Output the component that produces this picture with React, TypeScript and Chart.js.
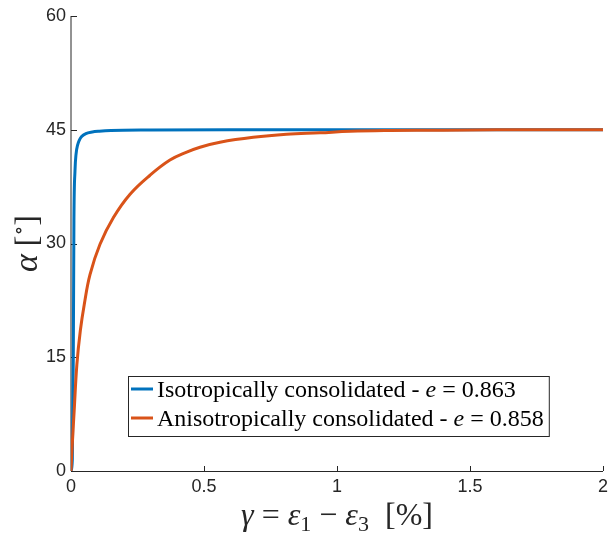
import { useEffect, useRef } from "react";
import { Chart, registerables } from "chart.js";

Chart.register(...registerables);

// Shear strain gamma [%] and mobilised angle alpha [deg] for the two specimens
const ISO_STRAIN = [0, 0.005, 0.0087, 0.011, 0.015, 0.019, 0.025, 0.031, 0.04, 0.056, 0.08, 0.106, 0.15, 0.3, 0.6, 1, 1.5, 2];
const ISO_ANGLE = [0, 1.5, 15.4, 33, 39.6, 41.8, 43, 43.6, 44.1, 44.5, 44.7, 44.8, 44.9, 44.97, 45, 45, 45, 45];

const ANISO_STRAIN = [0, 0.004, 0.012, 0.022, 0.035, 0.05, 0.0714, 0.109, 0.159, 0.222, 0.297, 0.372, 0.435, 0.485, 0.56, 0.685, 0.81, 0.936, 1.05, 1.2, 1.4, 1.6, 2];
const ANISO_ANGLE = [0, 3, 8, 14, 18.5, 22, 25.9, 29.9, 33.4, 36.5, 39.0, 41.0, 42.05, 42.7, 43.35, 44.0, 44.4, 44.6, 44.8, 44.9, 44.95, 45, 45];

const X_TICKS = [0, 0.5, 1, 1.5, 2];
const Y_TICKS = [0, 15, 30, 45, 60];

const ISO_LABEL = "Isotropically consolidated - ";
const ISO_VOID = "0.863";
const ANISO_LABEL = "Anisotropically consolidated - ";
const ANISO_VOID = "0.858";

const BLUE = "#0072BD";
const ORANGE = "#D95319";
const AXIS = "#262626";
const SERIF = "'Liberation Serif', 'DejaVu Serif', serif";
const SANS = "'Liberation Sans', Arial, sans-serif";

type Run = { text: string; size: number; italic?: boolean; dy?: number };

function setFont(ctx: CanvasRenderingContext2D, r: Run) {
  ctx.font = `${r.italic ? "italic " : ""}${r.size}px ${SERIF}`;
}

function runsWidth(ctx: CanvasRenderingContext2D, runs: Run[]) {
  let w = 0;
  for (const r of runs) {
    setFont(ctx, r);
    w += ctx.measureText(r.text).width;
  }
  return w;
}

function drawRuns(ctx: CanvasRenderingContext2D, runs: Run[], x: number, y: number) {
  let cx = x;
  ctx.textAlign = "left";
  ctx.textBaseline = "alphabetic";
  for (const r of runs) {
    setFont(ctx, r);
    ctx.fillText(r.text, cx, y + (r.dy || 0));
    cx += ctx.measureText(r.text).width;
  }
  return cx;
}

const xTitle: Run[] = [
  { text: "γ", size: 32, italic: true },
  { text: " = ", size: 32 },
  { text: "ε", size: 32, italic: true },
  { text: "1", size: 22, dy: 6 },
  { text: " − ", size: 32 },
  { text: "ε", size: 32, italic: true },
  { text: "3", size: 22, dy: 6 },
  { text: "  [%]", size: 32 },
];

const yTitle: Run[] = [
  { text: "α", size: 34, italic: true },
  { text: " [", size: 32 },
  { text: "∘", size: 20, dy: -12 },
  { text: "]", size: 32 },
];

const axesPlugin = {
  id: "matlabAxes",
  beforeDatasetsDraw(chart: any) {
    const { ctx, chartArea } = chart;
    const xs = chart.scales.x;
    const ys = chart.scales.y;
    ctx.save();
    ctx.strokeStyle = AXIS;
    ctx.lineWidth = 1;
    // left axis
    ctx.beginPath();
    ctx.moveTo(chartArea.left, chartArea.top);
    ctx.lineTo(chartArea.left, chartArea.bottom);
    ctx.stroke();
    // bottom axis
    ctx.beginPath();
    ctx.moveTo(chartArea.left, chartArea.bottom + 0.5);
    ctx.lineTo(chartArea.right, chartArea.bottom + 0.5);
    ctx.stroke();
    // inward ticks
    ctx.beginPath();
    for (const v of X_TICKS) {
      const px = Math.round(xs.getPixelForValue(v)) + 0.5;
      ctx.moveTo(px, chartArea.bottom);
      ctx.lineTo(px, chartArea.bottom - 5);
    }
    for (const v of Y_TICKS) {
      const py = Math.round(ys.getPixelForValue(v)) + 0.5;
      ctx.moveTo(chartArea.left, py);
      ctx.lineTo(chartArea.left + 6, py);
    }
    ctx.stroke();
    ctx.restore();
  },
  afterDraw(chart: any) {
    const { ctx, chartArea } = chart;
    ctx.save();
    ctx.fillStyle = AXIS;
    // x axis title
    const wx = runsWidth(ctx, xTitle);
    drawRuns(ctx, xTitle, (chartArea.left + chartArea.right) / 2 - wx / 2, 525);
    // y axis title
    const wy = runsWidth(ctx, yTitle);
    ctx.translate(37, (chartArea.top + chartArea.bottom) / 2);
    ctx.rotate(-Math.PI / 2);
    drawRuns(ctx, yTitle, -wy / 2, 0);
    ctx.restore();

    // legend box
    const rows = chart.data.datasets.map((ds: any) => ({
      color: ds.borderColor as string,
      runs: [
        { text: ds.label as string, size: 24 },
        { text: "e", size: 24, italic: true },
        { text: " = " + ds.voidRatio, size: 24 },
      ] as Run[],
    }));
    ctx.save();
    const left = 128;
    const top = 376;
    const bottom = 436;
    const textX = 157;
    let maxW = 0;
    for (const r of rows) maxW = Math.max(maxW, runsWidth(ctx, r.runs));
    const right = textX + maxW + 5;
    ctx.fillStyle = "#ffffff";
    ctx.fillRect(left, top, right - left, bottom - top);
    ctx.strokeStyle = AXIS;
    ctx.lineWidth = 1;
    ctx.strokeRect(left + 0.5, top + 0.5, right - left, bottom - top);
    rows.forEach((r: any, i: number) => {
      const cy = 389 + i * 29;
      ctx.strokeStyle = r.color;
      ctx.lineWidth = 3;
      ctx.beginPath();
      ctx.moveTo(131, cy);
      ctx.lineTo(153, cy);
      ctx.stroke();
      ctx.fillStyle = "#000000";
      drawRuns(ctx, r.runs, textX, cy + 8);
    });
    ctx.restore();
  },
};

function toPoints(xs: number[], ys: number[]) {
  return xs.map((x, i) => ({ x, y: ys[i] }));
}

export default function App() {
  const ref = useRef<HTMLCanvasElement>(null);

  useEffect(() => {
    document.body.style.margin = "0";
    const chart = new Chart(ref.current!, {
      type: "line",
      data: {
        datasets: [
          {
            label: ISO_LABEL,
            voidRatio: ISO_VOID,
            data: toPoints(ISO_STRAIN, ISO_ANGLE),
            borderColor: BLUE,
            borderWidth: 3,
            pointRadius: 0,
            cubicInterpolationMode: "monotone",
            order: 1,
          } as any,
          {
            label: ANISO_LABEL,
            voidRatio: ANISO_VOID,
            data: toPoints(ANISO_STRAIN, ANISO_ANGLE),
            borderColor: ORANGE,
            borderWidth: 3,
            pointRadius: 0,
            tension: 0.4,
            order: 0,
          } as any,
        ],
      },
      options: {
        responsive: false,
        animation: false,
        events: [],
        layout: { padding: { left: 0, right: 6, top: 16, bottom: 0 } },
        plugins: { legend: { display: false }, tooltip: { enabled: false } },
        scales: {
          x: {
            type: "linear",
            min: 0,
            max: 2,
            grid: { display: false, drawTicks: false },
            border: { display: false },
            afterBuildTicks: (s: any) => {
              s.ticks = X_TICKS.map((v) => ({ value: v }));
            },
            afterFit: (s: any) => {
              s.height = 62;
              s.paddingLeft = 0;
              s.paddingRight = 0;
            },
            ticks: {
              padding: 5,
              color: AXIS,
              font: { family: SANS, size: 18 },
              maxRotation: 0,
              callback: (v: any) => String(v),
            },
          },
          y: {
            type: "linear",
            min: 0,
            max: 60,
            grid: { display: false, drawTicks: false },
            border: { display: false },
            afterBuildTicks: (s: any) => {
              s.ticks = Y_TICKS.map((v) => ({ value: v }));
            },
            afterFit: (s: any) => {
              s.width = 71;
              s.paddingTop = 0;
              s.paddingBottom = 0;
            },
            ticks: {
              padding: 5,
              color: AXIS,
              font: { family: SANS, size: 18 },
              callback: (v: any) => String(v),
            },
          },
        },
      } as any,
      plugins: [axesPlugin],
    });
    return () => chart.destroy();
  }, []);

  return (
    <div style={{ width: 609, height: 533 }}>
      <canvas ref={ref} width={609} height={533} style={{ display: "block" }} />
    </div>
  );
}
